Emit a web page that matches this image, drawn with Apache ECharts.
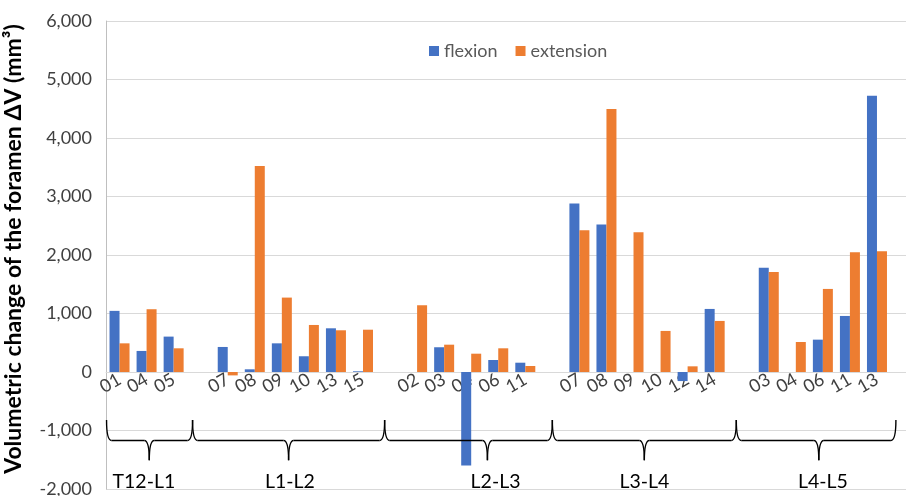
<!DOCTYPE html>
<html>
<head>
<meta charset="utf-8">
<script src="https://cdn.jsdelivr.net/npm/echarts@6/dist/echarts.min.js"></script>
<style>
html,body{margin:0;padding:0;background:#fff;}
#chart{width:910px;height:496px;}
</style>
</head>
<body>
<div id="chart"></div>
<script>
// ---- data ----
const categories = ['01','04','05','', '07','08','09','10','13','15','', '02','03','04','06','11','', '07','08','09','10','12','14','', '03','04','06','11','13'];
const flexion   = [1045, 360, 605, null, 428, 46, 490, 269, 747, 12, null, null, 423, -1600, 205, 159, null, 2880, 2520, null, null, -155, 1078, null, 1783, null, 553, 958, 4723];
const extension = [490, 1073, 405, null, -58, 3520, 1272, 804, 713, 723, null, 1141, 467, 313, 405, 103, null, 2424, 4495, 2390, 702, 97, 873, null, 1710, 513, 1420, 2046, 2062];
const yTicks = [-2000, -1000, 0, 1000, 2000, 3000, 4000, 5000, 6000];
const groupNames = ['T12-L1', 'L1-L2', 'L2-L3', 'L3-L4', 'L4-L5'];
// brace extents in category-index units: [start, end, tip, labelCenter]
const groupSpans = [[-0.48, 2.7, 1.1, 0.9], [2.7, 9.8, 6.25, 6.3], [9.8, 16.0, 13.6, 13.9], [16.0, 22.8, 19.4, 19.4], [22.8, 28.7, 25.85, 26.0]];

const FONT = 'Lato, "Open Sans", sans-serif';
const TXT = '#404040';
const W = 910, H0 = 496, GT = 21, GB = 7;
const yMin = yTicks[0], yMax = yTicks[yTicks.length - 1];
// move the category axis (with its labels) up to the zero line
const zeroOffset = -(H0 - GT - GB) * (0 - yMin) / (yMax - yMin);

const chart = echarts.init(document.getElementById('chart'));

const option = {
  animation: false,
  textStyle: { fontFamily: FONT },
  legend: {
    top: 37, left: 424,
    itemWidth: 10, itemHeight: 10, itemGap: 18,
    icon: 'rect',
    textStyle: { fontSize: 18, color: '#595959', fontFamily: FONT },
    data: ['flexion', 'extension']
  },
  grid: [
    { left: 106, right: 19.5, top: GT, bottom: GB, containLabel: false, outerBoundsMode: 'none' },
    { left: 106, right: 4, top: GT, bottom: GB, containLabel: false, outerBoundsMode: 'none' }
  ],
  xAxis: [
    {
      type: 'category', gridIndex: 0, data: categories, position: 'bottom', offset: zeroOffset,
      axisLine: { show: true, onZero: false, lineStyle: { color: '#d9d9d9', width: 1 } },
      axisTick: { show: false },
      axisLabel: { rotate: 30, fontSize: 18, color: TXT, margin: 6, interval: 0, fontFamily: FONT, hideOverlap: false },
      splitLine: { show: false }
    },
    { type: 'value', gridIndex: 1, show: false, min: 0, max: 1 }
  ],
  yAxis: [
    {
      type: 'value', gridIndex: 0, min: yMin, max: yMax, interval: 1000,
      name: 'Volumetric change of the foramen ΔV (mm³)',
      nameLocation: 'middle', nameGap: 81,
      nameTextStyle: { fontSize: 23, fontWeight: 'bold', color: '#000', fontFamily: FONT, padding: [0, 0, 0, 12] },
      axisLine: { show: true, onZero: false, lineStyle: { color: '#bfbfbf' } },
      axisTick: { show: false },
      splitLine: { show: false },
      axisLabel: {
        fontSize: 18, color: TXT, margin: 14, fontFamily: FONT,
        formatter: v => v.toLocaleString('en-US')
      }
    },
    {
      type: 'value', gridIndex: 1, min: yMin, max: yMax, interval: 1000,
      axisLine: { show: false }, axisTick: { show: false }, axisLabel: { show: false },
      splitLine: { show: true, lineStyle: { color: '#d9d9d9', width: 1 } }
    }
  ],
  series: [
    { name: 'flexion', type: 'bar', xAxisIndex: 0, yAxisIndex: 0, data: flexion, barWidth: 10, barGap: '0%', itemStyle: { color: '#4472C4' }, z: 3 },
    { name: 'extension', type: 'bar', xAxisIndex: 0, yAxisIndex: 0, data: extension, barWidth: 10, barGap: '0%', itemStyle: { color: '#ED7D31' }, z: 3 }
  ]
};
chart.setOption(option);

// ---- braces and group labels, positioned through the axes ----
function px(idx) {
  const a = chart.convertToPixel({ xAxisIndex: 0 }, 0);
  const b = chart.convertToPixel({ xAxisIndex: 0 }, 1);
  return a + (b - a) * idx;
}
function py(v) { return chart.convertToPixel({ yAxisIndex: 0 }, v); }
const yTop = py(-820), yMid = py(-1170), yBot = py(-1510), yLab = py(-1880);
const els = [];
const st = { stroke: '#000', lineWidth: 1.4, fill: null };
const H = 5;
groupSpans.forEach((g, i) => {
  const xa = px(g[0]), xb = px(g[1]), xt = px(g[2]), xl = px(g[3]);
  els.push({ type: 'bezierCurve', shape: { x1: xa, y1: yTop, x2: xa + H, y2: yMid, cpx1: xa, cpy1: yMid }, style: st, z: 10 });
  els.push({ type: 'line', shape: { x1: xa + H, y1: yMid, x2: xt - H, y2: yMid }, style: st, z: 10 });
  els.push({ type: 'bezierCurve', shape: { x1: xt - H, y1: yMid, x2: xt, y2: yBot, cpx1: xt, cpy1: yMid }, style: st, z: 10 });
  els.push({ type: 'bezierCurve', shape: { x1: xt, y1: yBot, x2: xt + H, y2: yMid, cpx1: xt, cpy1: yMid }, style: st, z: 10 });
  els.push({ type: 'line', shape: { x1: xt + H, y1: yMid, x2: xb - H, y2: yMid }, style: st, z: 10 });
  els.push({ type: 'bezierCurve', shape: { x1: xb - H, y1: yMid, x2: xb, y2: yTop, cpx1: xb, cpy1: yMid }, style: st, z: 10 });
  els.push({ type: 'text', x: xl, y: yLab, style: { text: groupNames[i], fontSize: 19.5, fill: '#000', fontFamily: FONT, align: 'center', verticalAlign: 'middle' }, z: 10 });
});
chart.setOption({ graphic: { elements: els } });
</script>
</body>
</html>
